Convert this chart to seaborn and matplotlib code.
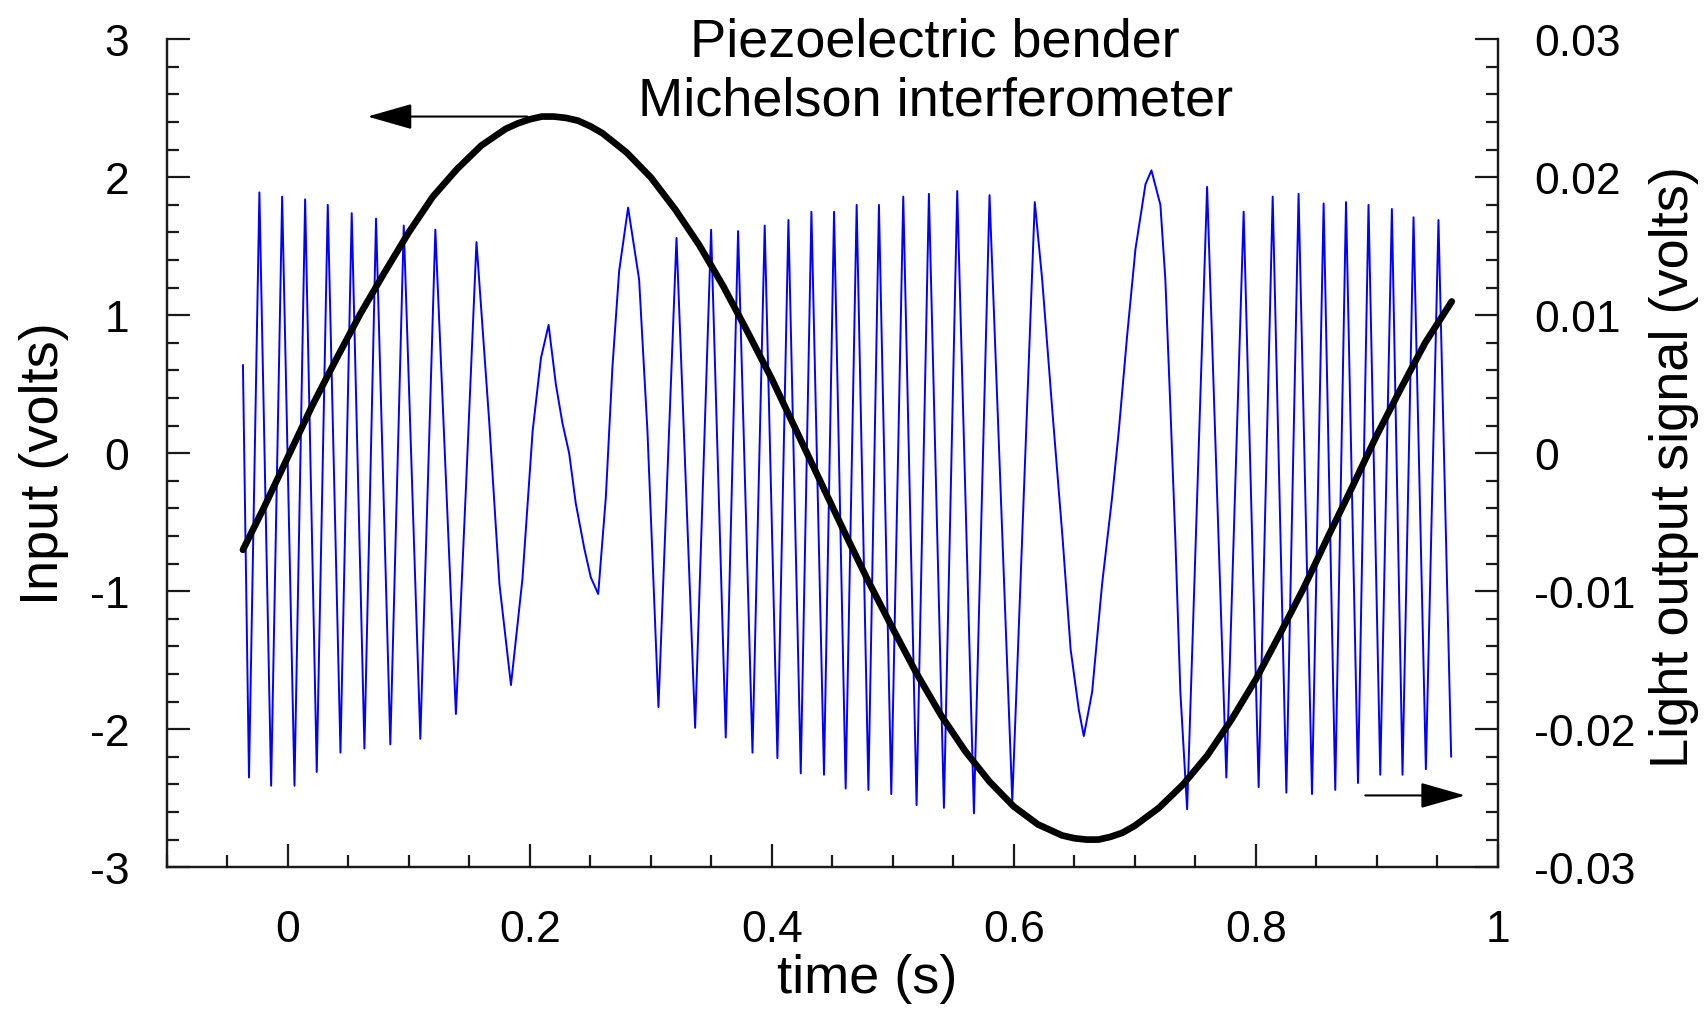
import numpy as np
import pandas as pd
import matplotlib
matplotlib.use("Agg")
import matplotlib.pyplot as plt
import seaborn as sns
from matplotlib.ticker import MultipleLocator, FixedLocator

# ---------------- data ----------------
# Input (volts), left axis
input_t = [-0.037, -0.02, 0.00, 0.02, 0.04, 0.06, 0.08, 0.10, 0.12, 0.14, 0.16,
           0.18, 0.19, 0.20, 0.21, 0.22, 0.23, 0.24, 0.25, 0.26, 0.28, 0.30, 0.32,
           0.34, 0.36, 0.38, 0.40, 0.42, 0.44, 0.46, 0.48, 0.50, 0.52, 0.54, 0.56,
           0.58, 0.60, 0.62, 0.63, 0.64, 0.65, 0.66, 0.67, 0.68, 0.69, 0.70, 0.72,
           0.74, 0.76, 0.78, 0.80, 0.82, 0.84, 0.86, 0.88, 0.90, 0.92, 0.94, 0.962]
input_v = [-0.70, -0.40, -0.03, 0.34, 0.68, 1.01, 1.31, 1.60, 1.86, 2.06, 2.23,
           2.35, 2.39, 2.42, 2.44, 2.44, 2.43, 2.41, 2.37, 2.32, 2.18, 2.00, 1.77,
           1.51, 1.21, 0.88, 0.54, 0.17, -0.20, -0.57, -0.93, -1.27, -1.60, -1.90, -2.16,
           -2.38, -2.56, -2.69, -2.73, -2.77, -2.79, -2.80, -2.80, -2.78, -2.75, -2.70, -2.57,
           -2.40, -2.19, -1.93, -1.64, -1.31, -0.97, -0.60, -0.24, 0.13, 0.47, 0.80, 1.10]

# Light output signal (volts), right axis
light_t = [-0.037, -0.032, -0.0234, -0.0137, -0.0046, 0.0056, 0.0144, 0.0240, 0.0331,
           0.0436, 0.0529, 0.0634, 0.0730, 0.0848, 0.0959, 0.1096, 0.1220, 0.1390,
           0.1473, 0.1560, 0.1666, 0.1750, 0.1845, 0.1940, 0.2024, 0.2093, 0.2156,
           0.2216, 0.2270, 0.2326, 0.2380, 0.2451, 0.2505, 0.2566, 0.2629, 0.2684,
           0.2739, 0.2813, 0.2904, 0.2973, 0.3064, 0.3213, 0.3367, 0.3499, 0.3620,
           0.3722, 0.3841, 0.3942, 0.4047, 0.4138, 0.4240, 0.4328, 0.4432, 0.4515,
           0.4611, 0.4702, 0.4799, 0.4886, 0.4988, 0.5087, 0.5197, 0.5299, 0.5423,
           0.5533, 0.5671, 0.5800, 0.5988, 0.6174, 0.6235, 0.6318, 0.6405, 0.6470,
           0.6538, 0.6579, 0.6648, 0.6730, 0.6813, 0.6868, 0.6937, 0.7006, 0.7089,
           0.7138, 0.7212, 0.7253, 0.7295, 0.7336, 0.7377, 0.7433, 0.7598, 0.7757,
           0.7900, 0.8024, 0.8140, 0.8253, 0.8354, 0.8465, 0.8561, 0.8657, 0.8746,
           0.8845, 0.8932, 0.9029, 0.9125, 0.9213, 0.9304, 0.9406, 0.9510, 0.9615]
light_v = [0.0064, -0.0235, 0.0189, -0.0241, 0.0186, -0.0241, 0.0184, -0.0231, 0.0180,
           -0.0217, 0.0174, -0.0214, 0.0170, -0.0211, 0.0165, -0.0207, 0.0162, -0.0189,
           -0.0025, 0.0153, 0.0022, -0.0095, -0.0168, -0.0091, 0.0016, 0.0069, 0.0093,
           0.0050, 0.0022, 0.0000, -0.0036, -0.0069, -0.0090, -0.0102, -0.0032, 0.0063,
           0.0132, 0.0178, 0.0126, 0.0016, -0.0184, 0.0156, -0.0199, 0.0162, -0.0206,
           0.0161, -0.0217, 0.0165, -0.0221, 0.0169, -0.0232, 0.0175, -0.0233, 0.0175,
           -0.0243, 0.0180, -0.0244, 0.0180, -0.0247, 0.0186, -0.0255, 0.0188, -0.0257,
           0.0190, -0.0261, 0.0187, -0.0252, 0.0182, 0.0126, 0.0032, -0.0063, -0.0142,
           -0.0186, -0.0205, -0.0173, -0.0095, -0.0032, 0.0016, 0.0085, 0.0148, 0.0195,
           0.0205, 0.0180, 0.0126, 0.0032, -0.0063, -0.0173, -0.0258, 0.0193, -0.0235,
           0.0175, -0.0242, 0.0186, -0.0246, 0.0188, -0.0247, 0.0181, -0.0244, 0.0182,
           -0.0239, 0.0180, -0.0233, 0.0177, -0.0233, 0.0171, -0.0229, 0.0169, -0.0220]

x_ticks = [0, 0.2, 0.4, 0.6, 0.8, 1.0]
x_labels = ["0", "0.2", "0.4", "0.6", "0.8", "1"]
left_ticks = [-3, -2, -1, 0, 1, 2, 3]
left_labels = ["-3", "-2", "-1", "0", "1", "2", "3"]
right_ticks = [-0.03, -0.02, -0.01, 0, 0.01, 0.02, 0.03]
right_labels = ["-0.03", "-0.02", "-0.01", "0", "0.01", "0.02", "0.03"]

title_lines = "Piezoelectric bender\nMichelson interferometer"

# ---------------- styling ----------------
sns.set_theme(style="white")
plt.rcParams["font.family"] = ["Liberation Sans", "DejaVu Sans"]
plt.rcParams["axes.unicode_minus"] = False
plt.rcParams["text.color"] = "black"
plt.rcParams["axes.labelcolor"] = "black"
plt.rcParams["xtick.color"] = "black"
plt.rcParams["ytick.color"] = "black"

fig = plt.figure(figsize=(17.08, 10.12), dpi=100)
ax = fig.add_axes([0.0976, 0.1421, 0.8769 - 0.0976, 0.9602 - 0.1421])
ax2 = ax.twinx()

df_in = pd.DataFrame({"t": input_t, "v": input_v})
df_light = pd.DataFrame({"t": light_t, "v": light_v})

sns.lineplot(data=df_light, x="t", y="v", ax=ax2, color="#0000ff", lw=1.4,
             estimator=None, sort=False)
sns.lineplot(data=df_in, x="t", y="v", ax=ax, color="black", lw=4.8,
             estimator=None, sort=False)

# black line on top of blue line
ax.set_zorder(ax2.get_zorder() + 1)
ax.patch.set_visible(False)

ax.set_xlim(-0.1, 1.0)
ax.set_ylim(-3, 3)
ax2.set_ylim(-0.03, 0.03)

ax.xaxis.set_major_locator(FixedLocator(x_ticks))
ax.set_xticklabels(x_labels)
ax.xaxis.set_minor_locator(MultipleLocator(0.05))
ax.yaxis.set_major_locator(FixedLocator(left_ticks))
ax.set_yticklabels(left_labels)
ax.yaxis.set_minor_locator(MultipleLocator(0.2))
ax2.yaxis.set_major_locator(FixedLocator(right_ticks))
ax2.set_yticklabels(right_labels)
ax2.yaxis.set_minor_locator(MultipleLocator(0.002))

for a in (ax, ax2):
    for s in a.spines.values():
        s.set_linewidth(1.6)
        s.set_color("#1a1a1a")
    a.spines["top"].set_visible(False)

ax.tick_params(axis="x", which="both", direction="in", bottom=True, top=False,
               labelsize=32, pad=30, color="#1a1a1a", labelcolor="black")
ax.tick_params(axis="y", which="both", direction="in", left=True, right=False,
               labelsize=32, pad=27, color="#1a1a1a", labelcolor="black")
ax.tick_params(which="major", length=16.5, width=1.6)
ax.tick_params(which="minor", length=8.5, width=1.6)
ax2.tick_params(axis="y", which="both", direction="in", right=True, left=False,
                labelsize=32, pad=26, color="#1a1a1a", labelcolor="black")
ax2.tick_params(which="major", length=16.5, width=1.6)
ax2.tick_params(which="minor", length=8.5, width=1.6)

ax.set_xlabel("time (s)", fontsize=39, labelpad=2, color="black", x=0.526)
ax.set_ylabel("Input (volts)", fontsize=39, labelpad=15, color="black", y=0.489)
ax2.set_ylabel("Light output signal (volts)", fontsize=39, labelpad=10,
               color="black", y=0.484)

ax.text(0.535, 2.77, title_lines, ha="center", va="center", fontsize=39,
        linespacing=1.25, clip_on=False, color="black")

ax.annotate("", xy=(0.066, 2.44), xytext=(0.198, 2.44),
            arrowprops=dict(arrowstyle="-|>,head_length=1.4,head_width=0.4",
                            color="black", lw=1.5, shrinkA=0, shrinkB=0,
                            mutation_scale=20))
ax.annotate("", xy=(0.973, -2.48), xytext=(0.8905, -2.48),
            arrowprops=dict(arrowstyle="-|>,head_length=1.4,head_width=0.4",
                            color="black", lw=1.5, shrinkA=0, shrinkB=0,
                            mutation_scale=20))

fig.savefig("out.png", dpi=100)
